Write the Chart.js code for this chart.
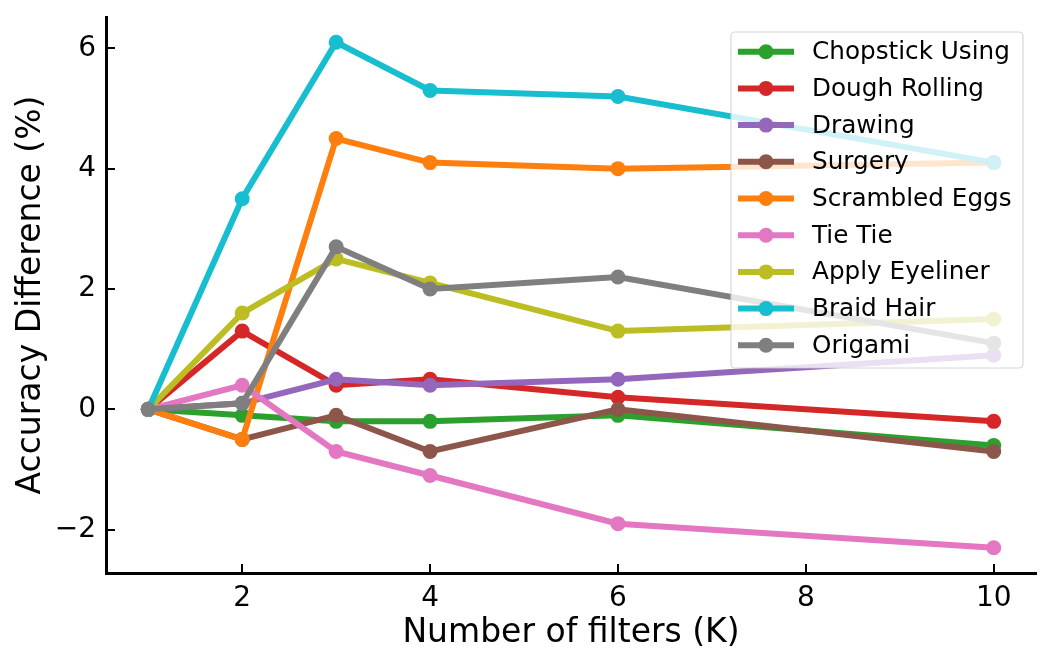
<!DOCTYPE html>
<html>
<head>
<meta charset="utf-8">
<script src="https://cdn.jsdelivr.net/npm/chart.js@4/dist/chart.umd.min.js"></script>
<style>
  html, body { margin: 0; padding: 0; background: #fff; }
  #wrap { width: 1056px; height: 665px; position: relative; }
</style>
</head>
<body>
<div id="wrap"><canvas id="accChart"></canvas></div>
<script>
// number of filters on the x axis
const kValues = [1, 2, 3, 4, 6, 10];

// accuracy difference (%) per task
const chopstickUsing = [0, -0.1, -0.2, -0.2, -0.1, -0.6];
const doughRolling   = [0, 1.3, 0.4, 0.5, 0.2, -0.2];
const drawing        = [0, 0.1, 0.5, 0.4, 0.5, 0.9];
const surgery        = [0, -0.5, -0.1, -0.7, 0.0, -0.7];
const scrambledEggs  = [0, -0.5, 4.5, 4.1, 4.0, 4.1];
const tieTie         = [0, 0.4, -0.7, -1.1, -1.9, -2.3];
const applyEyeliner  = [0, 1.6, 2.5, 2.1, 1.3, 1.5];
const braidHair      = [0, 3.5, 6.1, 5.3, 5.2, 4.1];
const origami        = [0, 0.1, 2.7, 2.0, 2.2, 1.1];

const taskNames = ['Chopstick Using', 'Dough Rolling', 'Drawing', 'Surgery',
    'Scrambled Eggs', 'Tie Tie', 'Apply Eyeliner', 'Braid Hair', 'Origami'];
const taskValues = [chopstickUsing, doughRolling, drawing, surgery,
    scrambledEggs, tieTie, applyEyeliner, braidHair, origami];
const taskColors = ['#2ca02c', '#d62728', '#9467bd', '#8c564b',
    '#ff7f0e', '#e377c2', '#bcbd22', '#17becf', '#7f7f7f'];

const xTicks = [2, 4, 6, 8, 10];
const yTicks = [-2, 0, 2, 4, 6];

const FONT = "'DejaVu Sans', sans-serif";

// Later series sit on top, like matplotlib
const datasets = taskNames.map((name, i) => ({
    label: name,
    data: kValues.map((k, j) => ({ x: k, y: taskValues[i][j] })),
    borderColor: taskColors[i],
    backgroundColor: taskColors[i],
    borderWidth: 6,
    pointRadius: 7.5,
    pointHoverRadius: 7.5,
    pointBorderWidth: 0,
    tension: 0,
    clip: false,
    order: taskNames.length - i
}));

function minusSign(v) {
    return v < 0 ? '\u2212' + Math.abs(v) : String(v);
}

// Inward tick marks on left and bottom spines
const innerTicks = {
    id: 'innerTicks',
    afterDatasetsDraw(chart) {
        const ctx = chart.ctx;
        const area = chart.chartArea;
        const xs = chart.scales.x, ys = chart.scales.y;
        ctx.save();
        ctx.strokeStyle = '#000';
        ctx.lineWidth = 2;
        xTicks.forEach(v => {
            const px = Math.round(xs.getPixelForValue(v));
            ctx.beginPath();
            ctx.moveTo(px, area.bottom);
            ctx.lineTo(px, area.bottom - 9);
            ctx.stroke();
        });
        yTicks.forEach(v => {
            const py = Math.round(ys.getPixelForValue(v));
            ctx.beginPath();
            ctx.moveTo(area.left, py);
            ctx.lineTo(area.left + 9, py);
            ctx.stroke();
        });
        ctx.restore();
    }
};

// Legend box drawn inside the plot, semi-transparent like matplotlib
const insideLegend = {
    id: 'insideLegend',
    afterDatasetsDraw(chart) {
        const ctx = chart.ctx;
        const boxX = 731, boxY = 32, boxW = 292, boxH = 336;
        const rowH = 36.7, firstRow = 51.7;
        ctx.save();
        ctx.globalAlpha = 0.8;
        ctx.fillStyle = '#fff';
        ctx.strokeStyle = '#cccccc';
        ctx.lineWidth = 1.2;
        ctx.beginPath();
        ctx.roundRect(boxX, boxY, boxW, boxH, 4);
        ctx.fill();
        ctx.stroke();
        ctx.globalAlpha = 1;
        ctx.font = '24.7px ' + FONT;
        ctx.textBaseline = 'middle';
        taskNames.forEach((name, i) => {
            const y = firstRow + i * rowH;
            ctx.strokeStyle = taskColors[i];
            ctx.fillStyle = taskColors[i];
            ctx.lineWidth = 6;
            ctx.beginPath();
            ctx.moveTo(738, y);
            ctx.lineTo(794, y);
            ctx.stroke();
            ctx.beginPath();
            ctx.arc(766, y, 7.5, 0, Math.PI * 2);
            ctx.fill();
            ctx.fillStyle = '#000';
            ctx.fillText(name, 812, y + 1);
        });
        ctx.restore();
    }
};

new Chart(document.getElementById('accChart'), {
    type: 'line',
    data: { datasets: datasets },
    plugins: [innerTicks, insideLegend],
    options: {
        responsive: true,
        maintainAspectRatio: false,
        animation: false,
        layout: { padding: { top: 17, right: 20, left: 0, bottom: 0 } },
        plugins: {
            legend: { display: false },
            tooltip: { enabled: false }
        },
        scales: {
            x: {
                type: 'linear',
                min: 0.55,
                max: 10.45,
                afterFit(scale) {
                    scale.height = 92;
                    scale.paddingLeft = 0;
                    scale.paddingRight = 0;
                },
                afterBuildTicks(scale) { scale.ticks = xTicks.map(v => ({ value: v })); },
                grid: { drawOnChartArea: false, drawTicks: false },
                border: { display: true, color: '#000', width: 3 },
                ticks: {
                    color: '#000',
                    padding: 9,
                    maxRotation: 0,
                    font: { family: FONT, size: 28 },
                    callback: v => minusSign(v)
                },
                title: {
                    display: true,
                    text: 'Number of filters (K)',
                    color: '#000',
                    font: { family: FONT, size: 33 },
                    padding: { top: 0, bottom: 12 }
                }
            },
            y: {
                type: 'linear',
                min: -2.72,
                max: 6.52,
                afterFit(scale) {
                    scale.width = 106;
                    scale.paddingTop = 0;
                    scale.paddingBottom = 0;
                },
                afterBuildTicks(scale) { scale.ticks = yTicks.map(v => ({ value: v })); },
                grid: { drawOnChartArea: false, drawTicks: false },
                border: { display: true, color: '#000', width: 3 },
                ticks: {
                    color: '#000',
                    padding: 10,
                    font: { family: FONT, size: 28 },
                    callback: v => minusSign(v)
                },
                title: {
                    display: true,
                    text: 'Accuracy Difference (%)',
                    color: '#000',
                    font: { family: FONT, size: 33 },
                    padding: { top: 12, bottom: 0 }
                }
            }
        }
    }
});
</script>
</body>
</html>
